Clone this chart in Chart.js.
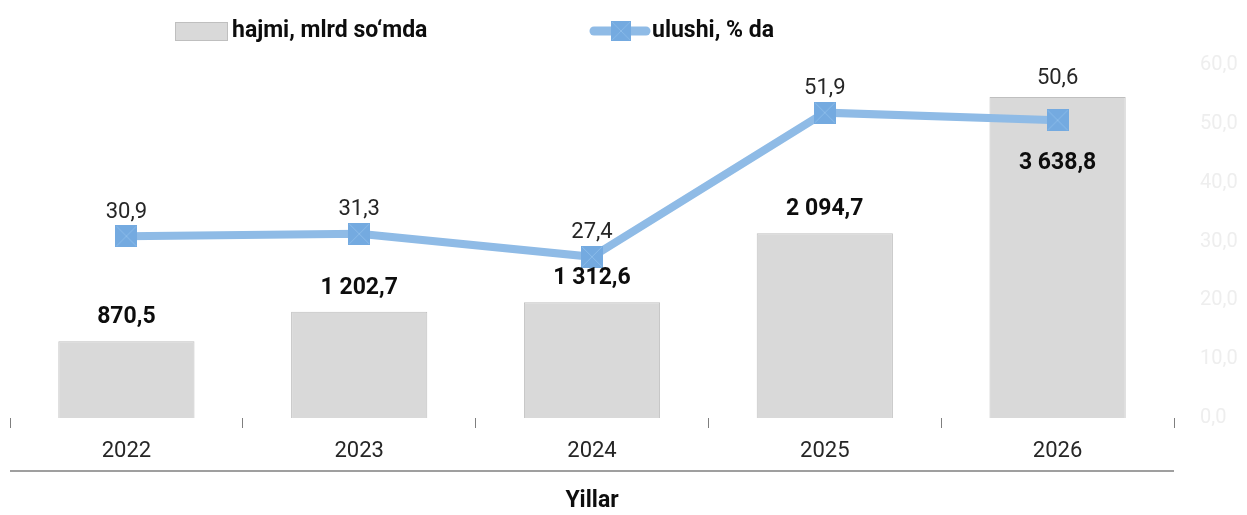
<!DOCTYPE html>
<html><head><meta charset="utf-8">
<script src="https://cdn.jsdelivr.net/npm/chart.js@4.4.1/dist/chart.umd.min.js"></script>
<style>html,body{margin:0;padding:0;background:#fff}#wrap{width:1247px;height:515px}</style>
</head><body><div id="wrap"><canvas id="c" width="1247" height="515"></canvas></div>
<script>
// ---- data ----
const years = ['2022', '2023', '2024', '2025', '2026'];
const volume = [870.5, 1202.7, 1312.6, 2094.7, 3638.8];
const share = [30.9, 31.3, 27.4, 51.9, 50.6];
const shareTicks = [0, 10, 20, 30, 40, 50, 60];
const volumeLabel = 'hajmi, mlrd so\u2018mda';
const shareLabel = 'ulushi, % da';
const axisTitle = 'Yillar';

const FONT = 'Roboto, "Noto Sans", sans-serif';
const BAR_FILL = '#d9d9d9', BAR_BORDER = '#bfbfbf';
const LINE_COL = '#8fbbe6', MARK_COL = '#74aae0';

function fmt(v) {
  const s = v.toFixed(1).split('.');
  const int = s[0].replace(/\B(?=(\d{3})+(?!\d))/g, ' ');
  return int + ',' + s[1];
}

function makeMarker(size) {
  const c = document.createElement('canvas');
  c.width = size; c.height = size;
  const g = c.getContext('2d');
  g.fillStyle = MARK_COL;
  g.fillRect(0, 0, size, size);
  g.strokeStyle = 'rgba(150,195,238,0.7)';
  g.lineWidth = 1;
  g.beginPath();
  g.moveTo(1, 1); g.lineTo(size - 1, size - 1);
  g.moveTo(size - 1, 1); g.lineTo(1, size - 1);
  g.stroke();
  return c;
}
const marker = makeMarker(22);

const decorPlugin = {
  id: 'decor',
  afterDatasetsDraw(chart) {
    const ctx = chart.ctx;
    const bars = chart.getDatasetMeta(0).data;
    const pts = chart.getDatasetMeta(1).data;
    ctx.save();
    ctx.textAlign = 'center';
    ctx.textBaseline = 'middle';
    for (let i = 0; i < bars.length; i++) {
      const b = bars[i], p = pts[i];
      const ly = Math.min(p.y - 24, b.y - 18);
      ctx.font = '22px ' + FONT;
      ctx.fillStyle = '#262626';
      ctx.fillText(fmt(share[i]), p.x, ly);
      const by = (b.y < p.y) ? p.y + 43 : b.y - 24;
      ctx.font = 'bold 23px ' + FONT;
      ctx.fillStyle = '#0d0d0d';
      ctx.fillText(fmt(volume[i]), b.x, by);
    }
    ctx.restore();
  },
  afterDraw(chart) {
    const ctx = chart.ctx;
    const a = chart.chartArea;
    ctx.save();
    ctx.strokeStyle = '#7f7f7f';
    ctx.lineWidth = 1.5;
    ctx.beginPath();
    ctx.moveTo(a.left, 471); ctx.lineTo(a.right, 471);
    ctx.stroke();
    const ly = 31;
    ctx.fillStyle = BAR_FILL;
    ctx.fillRect(175, 22, 52, 18);
    ctx.strokeStyle = BAR_BORDER;
    ctx.lineWidth = 1;
    ctx.strokeRect(175.5, 22.5, 52, 18);
    ctx.font = 'bold 23px ' + FONT;
    ctx.fillStyle = '#0d0d0d';
    ctx.textBaseline = 'middle';
    ctx.textAlign = 'left';
    ctx.fillText(volumeLabel, 232, ly);
    ctx.strokeStyle = LINE_COL;
    ctx.lineWidth = 9;
    ctx.lineCap = 'round';
    ctx.beginPath();
    ctx.moveTo(594, ly); ctx.lineTo(646, ly);
    ctx.stroke();
    ctx.drawImage(marker, 611, ly - 10, 20, 20);
    ctx.fillText(shareLabel, 652, ly);
    ctx.restore();
  }
};

new Chart(document.getElementById('c'), {
  data: {
    labels: years,
    datasets: [
      {
        type: 'bar', label: volumeLabel, data: volume, yAxisID: 'y',
        backgroundColor: BAR_FILL, borderColor: BAR_BORDER, borderWidth: 1,
        categoryPercentage: 1, barPercentage: 0.585, order: 2
      },
      {
        type: 'line', label: shareLabel, data: share, yAxisID: 'y1',
        borderColor: LINE_COL, borderWidth: 8, tension: 0,
        pointStyle: marker, pointRadius: 11, order: 1, clip: false
      }
    ]
  },
  options: {
    responsive: false, animation: false,
    layout: { autoPadding: false, padding: { left: 10, right: 0, top: 65, bottom: 0 } },
    plugins: { legend: { display: false }, tooltip: { enabled: false } },
    scales: {
      x: {
        grid: { display: true, offset: true, drawOnChartArea: false, drawTicks: true, tickLength: 10, color: '#7f7f7f', lineWidth: 1 },
        border: { display: false },
        ticks: { font: { family: FONT, size: 22 }, color: '#262626', padding: 10 },
        title: { display: true, text: axisTitle, font: { family: FONT, size: 23, weight: 'bold' }, color: '#0d0d0d', padding: { top: 4, bottom: 0 } },
        afterFit(s) { s.height = 97; s.paddingLeft = 0; s.paddingRight = 0; }
      },
      y: { display: false, min: 0, max: 4000 },
      y1: {
        position: 'right', min: 0, max: 60,
        afterBuildTicks(s) { s.ticks = shareTicks.map(v => ({ value: v })); },
        ticks: { callback: v => fmt(v), color: '#eeeeee', font: { family: FONT, size: 20 }, padding: 26 },
        grid: { display: false, drawTicks: false },
        border: { display: false },
        afterFit(s) { s.width = 73; s.paddingTop = 0; s.paddingBottom = 0; }
      }
    }
  },
  plugins: [decorPlugin]
});
</script>
</body></html>
